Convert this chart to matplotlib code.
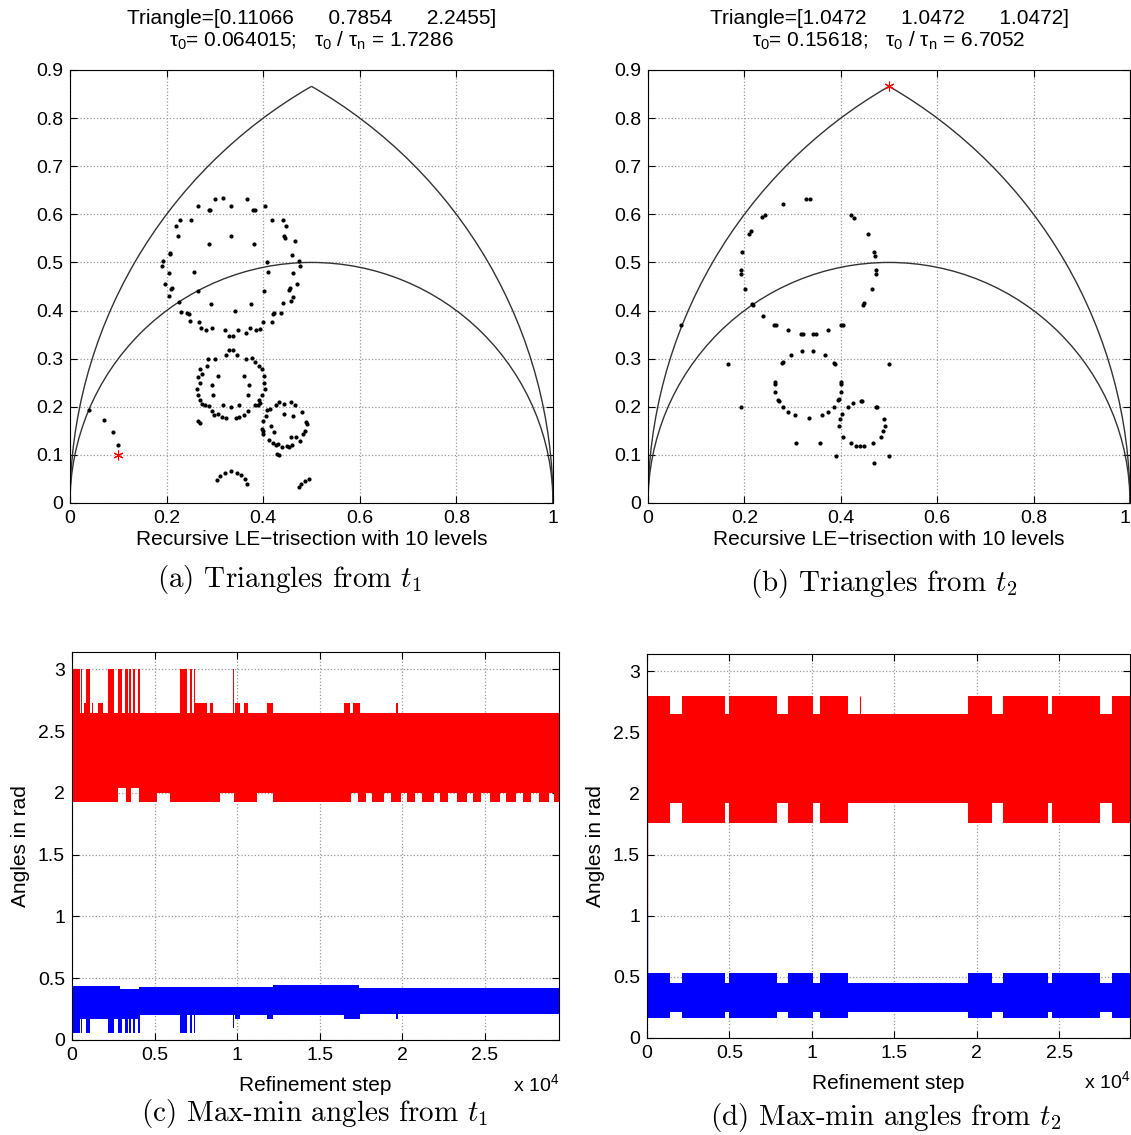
import numpy as np
import matplotlib.pyplot as plt
from matplotlib.patches import Arc

plt.rcParams['font.family'] = ['Liberation Sans', 'DejaVu Sans']
plt.rcParams['mathtext.fontset'] = 'custom'
plt.rcParams['mathtext.rm'] = 'Liberation Sans'
plt.rcParams['mathtext.it'] = 'Liberation Sans'

# ---------------- (a) triangles from t1 ----------------
a_x = [0.301, 0.316, 0.366, 0.264, 0.287, 0.290, 0.334, 0.379, 0.382, 0.403,
       0.228, 0.250, 0.418, 0.440, 0.219, 0.448, 0.223, 0.333, 0.443, 0.446, 0.466,
       0.287, 0.380, 0.208, 0.207, 0.459, 0.192, 0.190, 0.474, 0.476, 0.407,
       0.204, 0.256, 0.410, 0.462, 0.196, 0.471, 0.211, 0.210, 0.455, 0.454,
       0.266, 0.401, 0.206, 0.461, 0.226, 0.457, 0.440, 0.291, 0.375, 0.342,
       0.230, 0.243, 0.247, 0.423, 0.420, 0.437, 0.248, 0.268, 0.399, 0.418,
       0.272, 0.281, 0.294, 0.373, 0.386, 0.394, 0.320, 0.347, 0.329, 0.337, 0.364,
       # middle ring
       0.330, 0.337, 0.322, 0.345, 0.286, 0.301, 0.365, 0.377, 0.383, 0.284, 0.392,
       0.270, 0.397, 0.273, 0.306, 0.361, 0.402, 0.264, 0.269, 0.295, 0.371, 0.401,
       0.263, 0.403, 0.266, 0.297, 0.369, 0.398, 0.270, 0.392, 0.274, 0.280, 0.287,
       0.316, 0.333, 0.350, 0.383, 0.390, 0.394, 0.294, 0.368, 0.298, 0.307, 0.314,
       0.324, 0.343, 0.350, 0.360, 0.266, 0.270,
       # small ring
       0.432, 0.444, 0.457, 0.466, 0.427, 0.414, 0.408, 0.481, 0.444, 0.461, 0.406,
       0.400, 0.488, 0.491, 0.417, 0.397, 0.399, 0.486, 0.400, 0.422, 0.483, 0.467,
       0.457, 0.411, 0.476, 0.421, 0.426, 0.430, 0.438, 0.449, 0.454, 0.459, 0.428, 0.432,
       # bottom arcs and left trail
       0.305, 0.310, 0.320, 0.333, 0.346, 0.355, 0.362, 0.366,
       0.474, 0.479, 0.486, 0.494,
       0.040, 0.070, 0.090, 0.099]
a_y = [0.631, 0.633, 0.631, 0.617, 0.609, 0.610, 0.618, 0.610, 0.608, 0.617,
       0.588, 0.588, 0.588, 0.588, 0.576, 0.576, 0.555, 0.555, 0.554, 0.551, 0.545,
       0.539, 0.539, 0.520, 0.517, 0.516, 0.504, 0.493, 0.504, 0.493, 0.500,
       0.479, 0.481, 0.481, 0.479, 0.456, 0.456, 0.446, 0.444, 0.446, 0.443,
       0.441, 0.440, 0.430, 0.429, 0.417, 0.420, 0.416, 0.413, 0.413, 0.400,
       0.396, 0.394, 0.393, 0.394, 0.392, 0.395, 0.378, 0.377, 0.377, 0.377,
       0.363, 0.359, 0.364, 0.364, 0.359, 0.362, 0.359, 0.359, 0.348, 0.348, 0.353,
       0.318, 0.318, 0.308, 0.308, 0.299, 0.300, 0.300, 0.301, 0.294, 0.285, 0.285,
       0.278, 0.278, 0.268, 0.265, 0.265, 0.263, 0.262, 0.249, 0.246, 0.246, 0.249,
       0.237, 0.236, 0.224, 0.224, 0.224, 0.225, 0.215, 0.215, 0.206, 0.203, 0.202,
       0.204, 0.200, 0.204, 0.203, 0.204, 0.208, 0.192, 0.192, 0.183, 0.184, 0.179,
       0.176, 0.176, 0.179, 0.182, 0.171, 0.167,
       0.209, 0.206, 0.209, 0.204, 0.203, 0.195, 0.194, 0.190, 0.185, 0.180, 0.181,
       0.171, 0.168, 0.164, 0.161, 0.154, 0.149, 0.149, 0.144, 0.147, 0.143, 0.138,
       0.138, 0.131, 0.128, 0.124, 0.121, 0.123, 0.117, 0.119, 0.117, 0.121, 0.101, 0.100,
       0.048, 0.056, 0.063, 0.067, 0.063, 0.058, 0.049, 0.040,
       0.033, 0.039, 0.046, 0.049,
       0.194, 0.173, 0.147, 0.121]
a_star = (0.1, 0.1)
a_title1 = 'Triangle=[0.11066      0.7854      2.2455]'
a_title2 = r'$\tau_0$= 0.064015;   $\tau_0$ / $\tau_n$ = 1.7286'

# ---------------- (b) triangles from t2 ----------------
b_x = [0.281, 0.327, 0.337, 0.236, 0.242, 0.210, 0.213, 0.422, 0.428, 0.456, 0.468,
       0.471, 0.195, 0.192, 0.192, 0.473, 0.473, 0.201, 0.465, 0.215, 0.218, 0.447,
       0.449, 0.238, 0.261, 0.265, 0.290, 0.317, 0.322, 0.343, 0.349, 0.374, 0.400, 0.404,
       0.069, 0.166, 0.192, 0.500, 0.390, 0.468, 0.500,
       0.320, 0.343, 0.297, 0.278, 0.281, 0.367, 0.386, 0.388, 0.263, 0.263, 0.264,
       0.401, 0.401, 0.400, 0.269, 0.272, 0.395, 0.397, 0.281, 0.291, 0.304, 0.333,
       0.360, 0.374, 0.385,
       0.414, 0.426, 0.442, 0.445, 0.474, 0.476, 0.403, 0.398, 0.397, 0.490, 0.491,
       0.488, 0.483, 0.405, 0.421, 0.431, 0.440, 0.449, 0.467, 0.308, 0.357]
b_y = [0.621, 0.631, 0.631, 0.594, 0.598, 0.559, 0.566, 0.599, 0.593, 0.559, 0.521,
       0.514, 0.521, 0.484, 0.477, 0.484, 0.477, 0.444, 0.444, 0.414, 0.411, 0.411,
       0.415, 0.388, 0.371, 0.369, 0.359, 0.352, 0.352, 0.352, 0.352, 0.359, 0.369, 0.371,
       0.371, 0.289, 0.199, 0.289, 0.097, 0.083, 0.097,
       0.316, 0.316, 0.308, 0.290, 0.293, 0.308, 0.292, 0.289, 0.252, 0.248, 0.231,
       0.251, 0.248, 0.231, 0.215, 0.212, 0.214, 0.217, 0.199, 0.190, 0.182, 0.176,
       0.182, 0.190, 0.199,
       0.200, 0.208, 0.211, 0.211, 0.200, 0.199, 0.186, 0.174, 0.160, 0.174, 0.160,
       0.149, 0.138, 0.138, 0.124, 0.119, 0.118, 0.118, 0.124, 0.124, 0.124]
b_star = (0.5, 0.866)
b_title1 = 'Triangle=[1.0472      1.0472      1.0472]'
b_title2 = r'$\tau_0$= 0.15618;   $\tau_0$ / $\tau_n$ = 6.7052'

# ---------------- (c) max/min angles from t1 (step envelopes) ----------------
c_xmax = 29500
c_red_hi_x = [0, 60, 470, 540, 600, 700, 870, 1070, 1200, 1300, 1600, 1850, 2160,
              2560, 2760, 3050, 3220, 3370, 3430, 3570, 3690, 3830, 3970, 4130, 6520,
              6960, 7120, 7280, 7360, 7440, 8170, 8370, 8570, 9780, 9830, 9890, 10190,
              10390, 10690, 11800, 12200, 16450, 16850, 17050, 17450, 19650, 19720, 29500]
c_red_hi = [2.65, 3.0, 2.65, 3.0, 2.65, 2.73, 3.0, 2.65, 2.73, 2.65, 2.73, 2.65, 3.0,
            2.65, 3.0, 2.65, 3.0, 2.65, 3.0, 2.65, 3.0, 2.65, 3.0, 2.65, 3.0, 2.65,
            3.0, 2.65, 3.0, 2.73, 2.65, 2.73, 2.65, 3.0, 2.65, 2.73, 2.65, 2.73, 2.65,
            2.73, 2.65, 2.73, 2.65, 2.73, 2.65, 2.73, 2.65]
c_red_lo_x = [0, 2800, 3300, 3550, 4050, 5150, 5950, 8950, 9800, 11200, 12200, 16900,
              17300, 17800, 18200, 18900, 19300, 19900, 20300, 20800, 21200, 21900,
              22300, 22800, 23300, 23900, 24300, 24800, 25300, 25900, 26300, 26900,
              27300, 27800, 28300, 28900, 29200, 29500]
c_red_lo = [1.93, 2.04, 1.93, 2.04, 1.93, 2.0, 1.93, 2.0, 1.93, 2.0, 1.93,
            2.0, 1.93, 2.0, 1.93, 2.0, 1.93, 2.0, 1.93, 2.0, 1.93, 2.0, 1.93, 2.0,
            1.93, 2.0, 1.93, 2.0, 1.93, 2.0, 1.93, 2.0, 1.93, 2.0, 1.93, 2.0, 1.93]
c_blue_hi_x = [0, 2900, 4050, 12200, 17400, 29500]
c_blue_hi = [0.44, 0.41, 0.43, 0.445, 0.425]
c_blue_lo_x = [0, 60, 470, 540, 600, 870, 1070, 2160, 2560, 2760, 3050, 3220, 3370,
               3430, 3570, 3690, 3830, 3970, 4130, 6520, 6960, 7120, 7280, 7360, 7440,
               9780, 9830, 9890, 10190, 11800, 12200, 16450, 17450, 19650, 19720, 29500]
c_blue_lo = [0.17, 0.055, 0.17, 0.055, 0.17, 0.055, 0.17, 0.055, 0.17, 0.055, 0.17,
             0.055, 0.17, 0.055, 0.17, 0.055, 0.17, 0.055, 0.20, 0.055, 0.20, 0.055,
             0.20, 0.055, 0.20, 0.10, 0.20, 0.17, 0.20, 0.17, 0.20, 0.17, 0.21, 0.17, 0.21]

# ---------------- (d) max/min angles from t2 ----------------
d_xmax = 29300
d_active_x0 = [0, 2120, 4950, 8580, 10500, 19490, 21610, 24540, 28180]
d_active_x1 = [1410, 4745, 7880, 10100, 12220, 20900, 24340, 27470, 29300]
d_red_active = (1.76, 2.80)
d_red_quiet = (1.92, 2.65)
d_blue_active = (0.16, 0.53)
d_blue_quiet = (0.21, 0.45)
d_start = 1.0472
d_red_spike = (12926, 2.80)

ytick_top = [0, 0.1, 0.2, 0.3, 0.4, 0.5, 0.6, 0.7, 0.8, 0.9]
xtick_top = [0, 0.2, 0.4, 0.6, 0.8, 1]
ytick_bot = [0, 0.5, 1, 1.5, 2, 2.5, 3]
xtick_bot = [0, 5000, 10000, 15000, 20000, 25000]


def step_vals(edges, vals, x):
    idx = np.searchsorted(edges, x, side='right') - 1
    idx = np.clip(idx, 0, len(vals) - 1)
    return np.asarray(vals)[idx]


def draw_band(ax, hi_x, hi, lo_x, lo, color):
    x = np.union1d(hi_x, lo_x)
    ax.fill_between(x, step_vals(lo_x, lo, x), step_vals(hi_x, hi, x),
                    step='post', color=color, lw=0)


def style(ax):
    ax.tick_params(direction='in', top=True, right=True, length=5, width=0.8,
                   labelsize=14, pad=5)
    ax.grid(True, ls=':', color='0.6', lw=0.9)
    ax.set_axisbelow(True)
    for s in ax.spines.values():
        s.set_linewidth(0.8)


def draw_triangles(ax, px, py, star):
    for c, w, t1, t2 in [((0.5, 0), 1, 0, 180), ((0, 0), 2, 0, 60), ((1, 0), 2, 120, 180)]:
        ax.add_patch(Arc(c, w, w, theta1=t1, theta2=t2, color='0.2', lw=1.0))
    ax.plot(px, py, '.', color='k', ms=4)
    ax.plot(star[0], star[1], marker=(6, 2, 0), color='r', ms=7, mew=0.8)
    ax.set_xlim(0, 1)
    ax.set_ylim(0, 0.9)
    ax.set_xticks(xtick_top)
    ax.set_xticklabels(['%g' % v for v in xtick_top])
    ax.set_yticks(ytick_top)
    ax.set_yticklabels(['%g' % v for v in ytick_top])
    style(ax)
    ax.set_xlabel('Recursive LE\u2212trisection with 10 levels', fontsize=15, labelpad=2)


def angle_axes(ax, xmax):
    ax.set_xlim(0, xmax)
    ax.set_ylim(0, np.pi)
    ax.set_xticks(xtick_bot)
    ax.set_xticklabels(['%g' % (v / 1e4) for v in xtick_bot])
    ax.set_yticks(ytick_bot)
    ax.set_yticklabels(['%g' % v for v in ytick_bot])
    style(ax)
    ax.set_xlabel('Refinement step', fontsize=15, labelpad=9)
    ax.set_ylabel('Angles in rad', fontsize=15, labelpad=6)
    ax.text(1.0, -0.085, r'x 10$^4$', transform=ax.transAxes, ha='right', va='top', fontsize=14)


W, H = 1131, 1135
fig = plt.figure(figsize=(W / 100, H / 100), dpi=100)

ax_a = fig.add_axes([70 / W, 1 - 503 / H, 483 / W, 433 / H])
ax_b = fig.add_axes([648 / W, 1 - 503 / H, 482 / W, 433 / H])
ax_c = fig.add_axes([72 / W, 1 - 1040 / H, 487 / W, 388 / H])
ax_d = fig.add_axes([647 / W, 1 - 1038 / H, 483 / W, 384 / H])

draw_triangles(ax_a, a_x, a_y, a_star)
draw_triangles(ax_b, b_x, b_y, b_star)
# right-most tick label of (b) sits on the figure edge: keep it inside
ax_b.get_xticklabels()[-1].set_horizontalalignment('right')
for ax, t1, t2 in [(ax_a, a_title1, a_title2), (ax_b, b_title1, b_title2)]:
    ax.text(0.5, 1.118, t1, transform=ax.transAxes, ha='center', va='center', fontsize=15)
    ax.text(0.5, 1.068, t2, transform=ax.transAxes, ha='center', va='center', fontsize=15)

# (c)
draw_band(ax_c, c_red_hi_x, c_red_hi, c_red_lo_x, c_red_lo, '#ff0000')
draw_band(ax_c, c_blue_hi_x, c_blue_hi, c_blue_lo_x, c_blue_lo, '#0000ff')
angle_axes(ax_c, c_xmax)

# (d)
d_edges = np.array(sorted(set([0, d_xmax] + d_active_x0 + d_active_x1)))
mids = (d_edges[:-1] + d_edges[1:]) / 2
is_act = np.array([any(a <= m < b for a, b in zip(d_active_x0, d_active_x1)) for m in mids])
for act, quiet, col in [(d_red_active, d_red_quiet, '#ff0000'),
                        (d_blue_active, d_blue_quiet, '#0000ff')]:
    lo = [act[0] if f else quiet[0] for f in is_act]
    hi = [act[1] if f else quiet[1] for f in is_act]
    draw_band(ax_d, d_edges, hi, d_edges, lo, col)
ax_d.vlines(0, d_start, d_red_active[0], color='#ff0000', lw=1)
ax_d.vlines(0, d_blue_active[1], d_start, color='#0000ff', lw=1)
ax_d.vlines(d_red_spike[0], d_red_quiet[1], d_red_spike[1], color='#ff0000', lw=0.8)
angle_axes(ax_d, d_xmax)

# captions
captions = [(290, 580, '(a) Triangles from $t_1$'), (884, 583, '(b) Triangles from $t_2$'),
            (315, 1114, '(c) Max-min angles from $t_1$'), (886, 1117, '(d) Max-min angles from $t_2$')]
for cx, cy, s in captions:
    fig.text(cx / W, 1 - cy / H, s, ha='center', va='center', fontsize=21,
             family='cmr10', math_fontfamily='cm')

fig.savefig('out.png', dpi=100)
